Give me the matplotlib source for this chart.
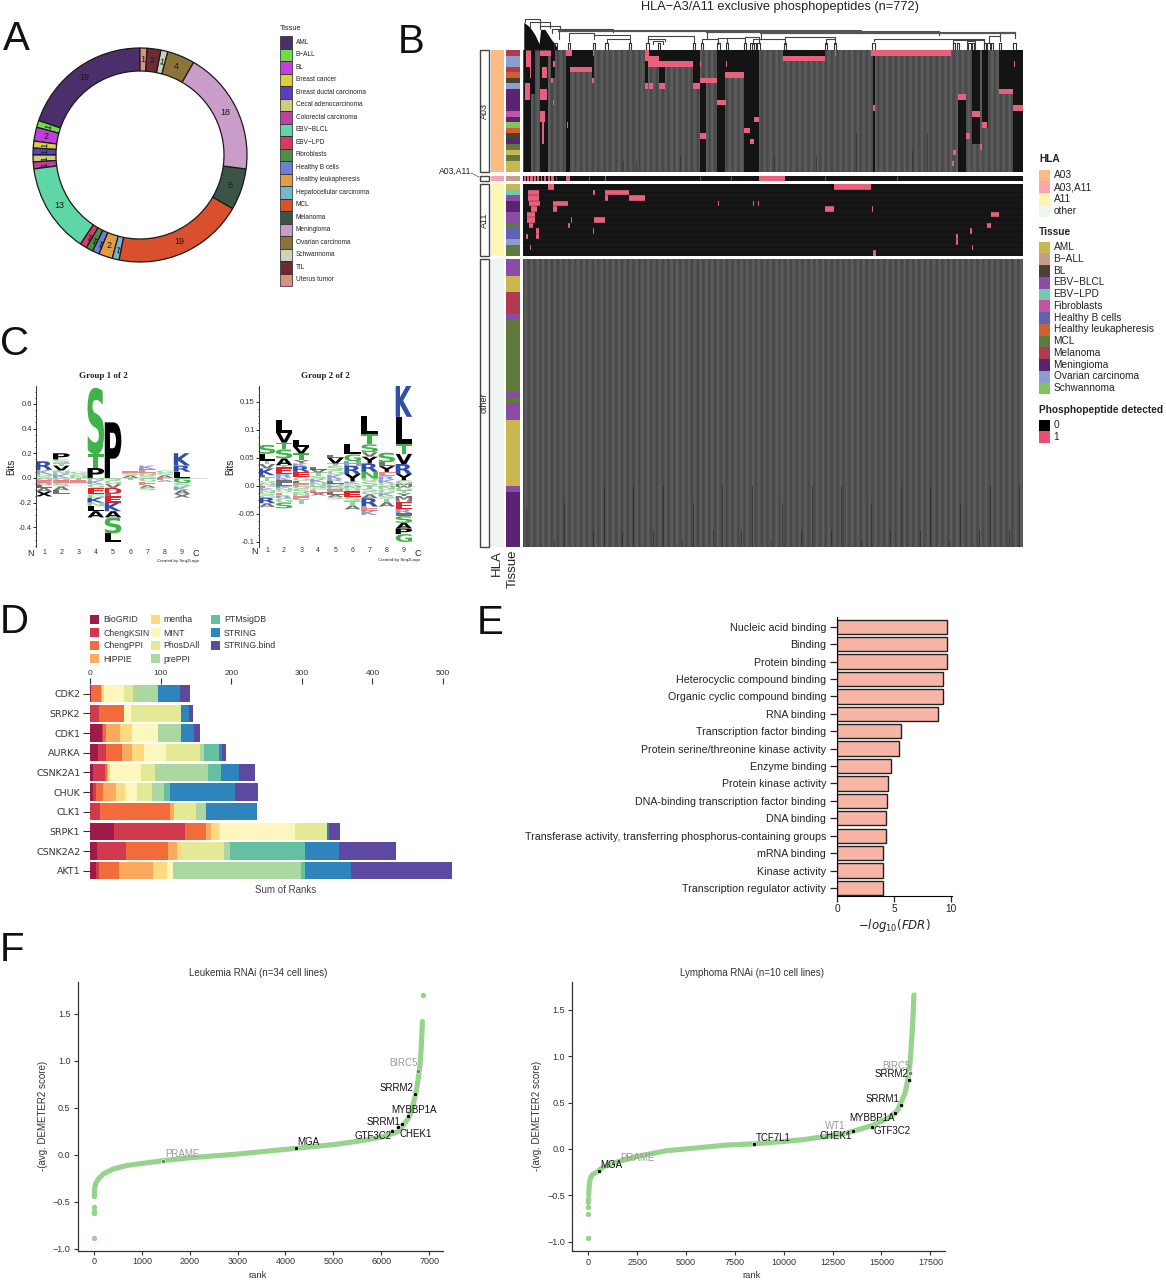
import numpy as np
import matplotlib
matplotlib.use('Agg')
import matplotlib.pyplot as plt
from matplotlib.patches import Rectangle, PathPatch
from matplotlib.textpath import TextPath
from matplotlib.font_manager import FontProperties
from matplotlib.transforms import Affine2D

plt.rcParams['font.family'] = ['Liberation Sans', 'DejaVu Sans']

W = 1166
H = 1280

# panel A
donut_names = ['AML', 'B\u2212ALL', 'BL', 'Breast cancer', 'Breast ductal carcinoma', 'Cecal adenocarcinoma',
               'Colorectal carcinoma', 'EBV\u2212BLCL', 'EBV\u2212LPD', 'Fibroblasts', 'Healthy B cells',
               'Healthy leukapheresis', 'Hepatocellular carcinoma', 'MCL', 'Melanoma', 'Meningioma',
               'Ovarian carcinoma', 'Schwannoma', 'TIL', 'Uterus tumor']
donut_vals = [19, 1, 2, 1, 1, 1, 1, 13, 1, 1, 1, 2, 1, 19, 6, 18, 4, 1, 2, 1]
donut_cols = ['#4a2f6b', '#6fdd4b', '#c23fdc', '#d9d03a', '#5a3fc0', '#c9cf7a', '#c0409f', '#5fd6a5', '#d53a68',
              '#4b8f3f', '#6a7fd6', '#e69a45', '#6fb8d0', '#d9502f', '#3a5545', '#c99cc9', '#8a7438', '#c9d5b9',
              '#6e2a35', '#dc9080']

# panel B, heatmap. x values are positions along the 500 px wide map on a 245..1550 scale
tissue_col = {'AML': '#c9b84f', 'B\u2212ALL': '#c49e88', 'BL': '#4b4037', 'EBV\u2212BLCL': '#8b4ba6',
              'EBV\u2212LPD': '#74c8ac', 'Fibroblasts': '#c452a5', 'Healthy B cells': '#5f63b5',
              'Healthy leukapheresis': '#cf5f2e', 'MCL': '#5f7a3a', 'Melanoma': '#b23a4e',
              'Meningioma': '#5b2470', 'Ovarian carcinoma': '#8a9fd0', 'Schwannoma': '#7fc55c'}
hla_col = {'A03': '#fdbb84', 'A03,A11': '#fba3ae', 'A11': '#fbf6b0', 'other': '#eef5f1'}
stripe = [0.29, 0.31, 0.33, 0.36, 0.37, 0.35, 0.32, 0.30, 0.28]

a03_tissue = ['Melanoma', 'Ovarian carcinoma', 'Ovarian carcinoma', 'Melanoma', 'Healthy leukapheresis', 'BL',
              'Ovarian carcinoma', 'Meningioma', 'Meningioma', 'Meningioma', 'Meningioma', 'Fibroblasts',
              'Meningioma', 'Schwannoma', 'Healthy leukapheresis', 'BL', 'Meningioma', 'MCL', 'AML', 'MCL',
              'AML', 'AML']
mid_tissue = ['B\u2212ALL']
a11_tissue = ['AML', 'EBV\u2212LPD', 'EBV\u2212BLCL', 'Meningioma', 'Meningioma', 'EBV\u2212BLCL', 'EBV\u2212BLCL',
              'MCL', 'Healthy B cells', 'Healthy B cells', 'Ovarian carcinoma', 'MCL', 'MCL']
other_tissue = ['EBV\u2212BLCL'] * 3 + ['AML'] * 3 + ['Melanoma'] * 4 + ['EBV\u2212BLCL'] + ['MCL'] * 13 + \
               ['EBV\u2212BLCL'] + ['MCL'] + ['EBV\u2212BLCL'] * 3 + ['AML'] * 12 + ['EBV\u2212BLCL'] + \
               ['Meningioma'] * 10

# (x0, x1, row0, row1)
a03_black = [(248, 267, 0, 22), (267, 275, 0, 8), (289, 311, 0, 22), (320, 330, 0, 5), (358, 366, 0, 22),
             (366, 430, 0, 3), (426, 430, 3, 6), (564, 572, 0, 7), (572, 600, 0, 3), (600, 615, 0, 7),
             (615, 690, 0, 2), (690, 708, 0, 6), (708, 722, 5, 22), (722, 750, 5, 6), (750, 773, 0, 22),
             (773, 822, 0, 5), (821, 860, 0, 22), (923, 1032, 0, 1), (1158, 1165, 0, 22), (1380, 1402, 8, 22),
             (1418, 1436, 0, 17), (1444, 1458, 0, 14), (1487, 1550, 0, 7), (1524, 1550, 7, 22)]
a03_pink = [(358, 371, 0, 1), (565, 575, 0, 1), (1155, 1363, 0, 1), (923, 1032, 1, 2), (565, 600, 1, 2),
            (572, 688, 2, 3), (367, 426, 3, 4), (773, 822, 4, 5), (709, 750, 5, 6), (564, 571, 6, 7),
            (575, 585, 6, 7), (600, 615, 6, 7), (690, 708, 6, 7), (1487, 1524, 7, 8), (1380, 1402, 8, 9),
            (751, 775, 9, 10), (1524, 1550, 10, 11), (1418, 1436, 11, 12), (846, 860, 12, 13),
            (1444, 1457, 13, 14), (821, 837, 14, 15), (709, 721, 15, 16), (1402, 1411, 15, 16),
            (837, 846, 16, 17), (1436, 1444, 17, 18), (1368, 1374, 18, 19), (1365, 1369, 20, 21),
            (253, 265, 0, 3), (263, 267, 3, 5), (250, 263, 6, 9), (289, 320, 0, 1), (294, 307, 3, 5),
            (289, 307, 7, 9), (289, 302, 11, 13), (294, 300, 13, 17), (320, 324, 5, 6), (324, 328, 2, 3),
            (322, 326, 9, 10), (426, 430, 5, 6), (708, 710, 2, 3), (1160, 1163, 10, 11), (360, 362, 13, 14),
            (1526, 1528, 2, 3), (776, 778, 2, 3), (1060, 1062, 0, 1), (428, 430, 0, 1)]
mid_pink = [(247, 251, 0, 1), (255, 260, 0, 1), (264, 270, 0, 1), (274, 279, 0, 1), (283, 288, 0, 1),
            (292, 296, 0, 1), (300, 304, 0, 1), (310, 316, 0, 1), (320, 326, 0, 1), (358, 367, 0, 1),
            (459, 461, 0, 1), (707, 709, 0, 1), (860, 930, 0, 1)]
mid_white = [330, 417, 460, 707, 787, 1032, 1222]
a11_pink = [(1057, 1155, 0, 1), (310, 326, 0, 1), (460, 523, 1, 2), (427, 433, 1, 2), (523, 565, 2, 3),
            (460, 468, 2, 3), (322, 361, 3, 4), (1032, 1057, 4, 5), (322, 335, 4, 5), (1467, 1487, 5, 6),
            (430, 459, 6, 7), (1457, 1467, 7, 8), (1411, 1416, 8, 9), (1376, 1379, 9, 10), (1374, 1379, 10, 11),
            (1416, 1420, 11, 12), (1160, 1166, 12, 13), (258, 285, 1, 3), (262, 290, 3, 4), (265, 280, 4, 5),
            (255, 275, 5, 7), (262, 270, 7, 8), (278, 286, 8, 10), (252, 256, 9, 10), (264, 267, 11, 12),
            (754, 757, 3, 4), (845, 848, 3, 4), (858, 861, 3, 4), (1156, 1158, 4, 5), (427, 429, 8, 9),
            (525, 527, 9, 10), (362, 366, 7, 8), (370, 373, 6, 7), (322, 325, 6, 7)]
# black hairlines near the bottom of the lower map: x and the row where they begin
other_lines_x = [252, 327, 352, 427, 456, 504, 533, 583, 610, 660, 688, 740, 765, 815, 843, 893, 920, 970, 998,
                 1048, 1076, 1126, 1153, 1203, 1231, 1281, 1308, 1358, 1386, 1436, 1464, 1514, 1540]
other_lines_r = [45, 51, 44, 49, 41, 49, 41, 49, 41, 51, 44, 49, 41, 49, 41, 51, 44, 49, 41, 49, 41, 51, 44, 49,
                 41, 49, 41, 51, 44, 49, 41, 49, 41]
a03_lines_x = [505, 655, 1115, 1260, 1300, 1010, 900, 540]
a03_lines_r = [20, 19, 15, 18, 15, 19, 19, 20]

# dendrogram (x0, x1, top, bottom0, bottom1), height scale 58 top .. 148 bottom
dendro = [(250, 290, 60, 70, 82), (263, 315, 70, 85, 85), (290, 341, 80, 90, 95),
          (320, 480, 88, 100, 98), (338, 1128, 94, 118, 100), (725, 1330, 98, 118, 105),
          (865, 1528, 100, 118, 105), (365, 430, 100, 122, 105), (430, 525, 105, 118, 115),
          (463, 525, 116, 128, 128), (570, 692, 108, 126, 128), (570, 615, 116, 128, 122),
          (585, 610, 122, 130, 132), (712, 755, 118, 128, 130), (755, 777, 113, 130, 128),
          (777, 825, 115, 128, 128), (825, 860, 112, 128, 118), (845, 860, 116, 130, 128),
          (860, 928, 116, 128, 130), (928, 1060, 112, 130, 118), (1035, 1060, 116, 132, 130),
          (1160, 1448, 116, 122, 122), (1368, 1448, 120, 148, 148), (1405, 1425, 122, 148, 148),
          (1460, 1490, 110, 125, 122), (1490, 1528, 98, 112, 115)]
dendro_long = [(338, 1128, 94), (725, 1330, 98), (865, 1528, 100)]
dendro_stems = [330, 365, 430, 463, 525, 570, 600, 692, 712, 755, 777, 825, 840, 850, 860, 928, 1035, 1060, 1160,
                1370, 1380, 1410, 1420, 1450, 1460, 1470, 1490, 1528]
dense_x = [247, 259, 267, 276, 287, 291, 302, 311, 320, 328, 333]
dense_top = [70, 80, 90, 105, 130, 90, 90, 105, 120, 130, 140]

# panel C, letter stacks per position, (letter, height), from the zero line outward
g1_pos = [[('S', .015), ('N', .015), ('K', .035), ('R', .07)],
          [('K', .03), ('N', .03), ('V', .04), ('T', .02), ('S', .03), ('P', .05)],
          [('N', .02), ('S', .015), ('G', .015)],
          [('P', .08), ('T', .11), ('S', .54)],
          [('P', .45)],
          [('A', .02), ('S', .02), ('E', .02)],
          [('S', .02), ('N', .02), ('E', .03), ('K', .03)],
          [('A', .02), ('S', .02), ('G', .02)],
          [('L', .05), ('R', .05), ('K', .1)]]
g1_neg = [[('G', .02), ('E', .02), ('D', .02), ('L', .02), ('A', .03), ('X', .04)],
          [('G', .02), ('E', .02), ('S', .03), ('A', .03), ('L', .03)],
          [('T', .02), ('E', .02)],
          [('N', .02), ('K', .03), ('G', .03), ('E', .05), ('G', .03), ('K', .04), ('N', .03), ('L', .04), ('A', .05)],
          [('S', .02), ('G', .03), ('V', .03), ('D', .05), ('L', .02), ('E', .05), ('K', .07), ('A', .05), ('S', .13), ('L', .07)],
          [('T', .015)],
          [('G', .03), ('E', .03), ('A', .02), ('S', .02)],
          [('E', .02), ('A', .01)],
          [('G', .04), ('S', .03), ('K', .03), ('A', .03), ('X', .03)]]
g2_pos = [[('N', .005), ('Q', .004), ('T', .006), ('L', .004), ('K', .012), ('V', .008), ('T', .006), ('L', .012), ('S', .016)],
          [('L', .005), ('I', .005), ('K', .005), ('R', .006), ('E', .012), ('T', .004), ('A', .012), ('S', .016), ('T', .012), ('V', .018), ('L', .022)],
          [('F', .005), ('L', .004), ('G', .006), ('E', .01), ('R', .01), ('K', .005), ('Y', .006), ('T', .012), ('V', .012), ('L', .012)],
          [('N', .006), ('K', .006), ('S', .006), ('T', .006), ('V', .005), ('L', .004)],
          [('N', .004), ('L', .004), ('R', .004), ('K', .008), ('G', .008), ('S', .008), ('T', .004), ('V', .01), ('L', .005)],
          [('S', .004), ('K', .004), ('Y', .013), ('R', .015), ('H', .008), ('G', .012), ('L', .019)],
          [('S', .008), ('Q', .005), ('N', .012), ('R', .015), ('Y', .012), ('V', .008), ('S', .014), ('T', .018), ('L', .033)],
          [('Q', .005), ('K', .006), ('R', .006), ('E', .008), ('Y', .01), ('L', .007), ('S', .017)],
          [('M', .004), ('G', .006), ('Y', .011), ('R', .018), ('V', .018), ('T', .018), ('L', .048), ('K', .055)]]
g2_neg = [[('E', .004), ('K', .004), ('N', .005), ('S', .004), ('G', .004), ('R', .01), ('A', .007)],
          [('K', .004), ('N', .004), ('Q', .004), ('E', .005), ('R', .005), ('G', .008), ('S', .01)],
          [('G', .005), ('S', .008), ('N', .005), ('E', .006), ('T', .008)],
          [('S', .004), ('G', .003), ('E', .005), ('X', .005)],
          [('K', .003), ('N', .003), ('E', .005), ('L', .005), ('A', .004), ('S', .004)],
          [('N', .005), ('Q', .005), ('E', .01), ('S', .007), ('T', .008), ('A', .007)],
          [('T', .005), ('S', .005), ('G', .005), ('A', .007), ('R', .015), ('E', .007), ('K', .008)],
          [('N', .006), ('G', .006), ('K', .006), ('S', .005), ('T', .006), ('A', .008)],
          [('W', .003), ('G', .005), ('T', .005), ('Y', .005), ('M', .008), ('H', .003), ('E', .012), ('R', .008),
           ('I', .005), ('S', .012), ('A', .01), ('P', .01), ('G', .014)]]
letter_col = {'S': '#3fb34a', 'T': '#3fb34a', 'G': '#3fb34a', 'N': '#3fb34a', 'Q': '#3fb34a',
              'K': '#2f4fa8', 'R': '#2f4fa8', 'H': '#2f4fa8', 'E': '#e8202a', 'D': '#e8202a', 'F': '#e8202a'}

# panel D
kinases = ['CDK2', 'SRPK2', 'CDK1', 'AURKA', 'CSNK2A1', 'CHUK', 'CLK1', 'SRPK1', 'CSNK2A2', 'AKT1']
lib_names = ['BioGRID', 'ChengKSIN', 'ChengPPI', 'HIPPIE', 'mentha', 'MINT', 'PhosDAll', 'prePPI', 'PTMsigDB',
             'STRING', 'STRING.bind']
lib_cols = ['#9e1b47', '#d1394f', '#f26b3a', '#fba95e', '#fdd97f', '#fdf6bd', '#e3e995', '#abd8a0', '#65c0a2',
            '#2f85bb', '#5d4aa0']
biogrid = [2, 0, 17, 12, 4, 4, 0, 34, 10, 9]
chengksin = [0, 13, 1, 11, 17, 5, 14, 101, 40.5, 4]
chengppi = [14, 34.5, 5, 22, 3, 10, 100, 30, 60, 28]
hippie = [1, 0, 20, 14, 2, 17.5, 5, 6.5, 13, 48]
mentha = [2.5, 0, 16.5, 18, 3, 13, 0, 11, 7.5, 20]
mint = [28, 11, 36.5, 30, 43.5, 17.5, 0, 108, 0, 9]
phosdall = [14, 71, 0, 49, 20, 21, 31, 45, 58.5, 0]
preppi = [35.5, 0, 33.5, 5, 74, 16.5, 15, 0, 8.5, 181]
ptmsigdb = [0, 0, 0, 22, 19.5, 9.5, 0, 0, 106, 5]
string_db = [31, 11, 18.5, 4, 25.5, 92, 71.5, 2.5, 49, 65]
string_bind = [13, 5.5, 8.5, 5, 22, 32, 0, 16.5, 81, 144]

# panel E
go_terms = ['Nucleic acid binding', 'Binding', 'Protein binding', 'Heterocyclic compound binding',
            'Organic cyclic compound binding', 'RNA binding', 'Transcription factor binding',
            'Protein serine/threonine kinase activity', 'Enzyme binding', 'Protein kinase activity',
            'DNA-binding transcription factor binding', 'DNA binding',
            'Transferase activity, transferring phosphorus-containing groups', 'mRNA binding', 'Kinase activity',
            'Transcription regulator activity']
go_fdr = [9.65, 9.65, 9.65, 9.35, 9.3, 8.85, 5.6, 5.4, 4.7, 4.5, 4.35, 4.3, 4.25, 4.05, 4.05, 4.0]

# panel F
leuk_rank = [10, 20, 50, 100, 200, 400, 700, 1000, 1450, 2000, 2500, 3000, 3500, 4200, 4500, 5000, 5500, 6000, 6200,
             6350, 6480, 6580, 6650, 6720, 6770, 6810, 6830, 6840, 6850, 6860]
leuk_val = [-.38, -.33, -.29, -.25, -.20, -.15, -.11, -.09, -.06, -.03, -.01, .01, .035, .07, .085, .11, .145, .19,
            .22, .25, .33, .4, .5, .65, .8, .95, 1.1, 1.2, 1.3, 1.42]
leuk_low_rank = [0, 0, 0, 0, 0, 0, 0, 6865]
leuk_low_val = [-.88, -.62, -.60, -.55, -.44, -.42, -.40, 1.7]
lymph_rank = [20, 40, 60, 100, 200, 500, 800, 1500, 2500, 4000, 5500, 7000, 8500, 10000, 11000, 12000, 13000, 13700,
              14500, 15000, 15400, 15800, 16000, 16200, 16350, 16450, 16520, 16580, 16630, 16660]
lymph_val = [-.5, -.42, -.37, -.32, -.28, -.24, -.19, -.14, -.08, -.02, .01, .04, .055, .08, .1, .13, .16, .2, .25,
             .3, .34, .41, .5, .6, .75, .9, 1.1, 1.3, 1.5, 1.66]
lymph_low_rank = [0, 0, 0, 0, 0]
lymph_low_val = [-.96, -.70, -.63, -.57, -.54]
# gene, rank, value, grey?, text offset in px, ha
leuk_genes = [('PRAME', 1450, -.06, True, 2, 7, 'left'), ('MGA', 4220, .07, False, 1, 6, 'left'),
              ('BIRC5', 6770, .89, True, 0, 8, 'right'), ('SRRM2', 6700, .65, False, -1, 6, 'right'),
              ('MYBBP1A', 6550, .41, False, -16, 6, 'left'), ('SRRM1', 6350, .30, False, 2, 5, 'right'),
              ('CHEK1', 6440, .33, False, -3, -10, 'left'), ('GTF3C2', 6230, .25, False, -1, -5, 'right')]
lymph_genes = [('PRAME', 1250, -.15, True, 8, 5, 'left'), ('MGA', 550, -.24, False, 1, 6, 'left'),
               ('TCF7L1', 8500, .05, False, 1, 6, 'left'), ('WT1', 13250, .17, True, -2, 7, 'right'),
               ('BIRC5', 16480, .82, True, 0, 7, 'right'), ('SRRM2', 16430, .74, False, -1, 6, 'right'),
               ('SRRM1', 16020, .47, False, -2, 6, 'right'), ('MYBBP1A', 15710, .39, False, -1, -5, 'right'),
               ('GTF3C2', 14530, .24, False, 1, -4, 'left'), ('CHEK1', 13560, .19, False, -1, -5, 'right')]


fig = plt.figure(figsize=(W / 100, H / 100), dpi=100, facecolor='white')


def px_axes(x0, y0, x1, y1, **kw):
    return fig.add_axes([x0 / W, 1 - y1 / H, (x1 - x0) / W, (y1 - y0) / H], **kw)


# full page axes for loose text and legends, in image pixels
ov = px_axes(0, 0, W, H, zorder=20)
ov.set_xlim(0, W)
ov.set_ylim(H, 0)
ov.axis('off')
ov.patch.set_alpha(0)


def txt(x, y, s, size=7, ha='left', va='center', **kw):
    kw.setdefault('color', '#222222')
    ov.text(x, y, s, fontsize=size, ha=ha, va=va, **kw)


for letter, lx, ly in [('A', 3, 50), ('B', 398, 53), ('C', 0, 355), ('D', 0, 633), ('E', 477, 634), ('F', 0, 961)]:
    ov.text(lx, ly, letter, fontsize=29, ha='left', va='baseline', color='#111111')

# A: donut
ax = px_axes(30, 45, 250, 265)
ax.pie(donut_vals, colors=donut_cols, startangle=90, counterclock=True, radius=107,
       wedgeprops=dict(width=23, edgecolor='#1a1a1a', linewidth=0.9))
ax.set_xlim(-110, 110)
ax.set_ylim(-110, 110)
ang = 90.0
for v in donut_vals:
    mid = ang + v * 360.0 / sum(donut_vals) / 2
    ang += v * 360.0 / sum(donut_vals)
    xx = 95.5 * np.cos(np.radians(mid))
    yy = 95.5 * np.sin(np.radians(mid))
    ax.text(xx, yy, str(v), fontsize=6.5, ha='center', va='center', color='#1a1a1a',
            rotation=(mid - 90 if v == 1 else 0))

txt(280, 28, 'Tissue', size=5.3)
for i, name in enumerate(donut_names):
    ov.add_patch(Rectangle((280, 36 + i * 12.5), 12, 12.5, fc=donut_cols[i], ec='#222222', lw=0.5))
    txt(296, 42.3 + i * 12.5, name, size=4.7)


# B: heatmap blocks
def col(v):
    return int(round((v - 245) * 772 / 1305))


def heat_block(y0, y1, nrows, tissue, hla, black=(), pink=(), gray=True):
    ax = px_axes(523, y0, 1023, y1)
    base = np.zeros((nrows, 772, 3))
    if gray:
        for c in range(772):
            base[:, c, :] = stripe[c % len(stripe)]
    else:
        base[:, :, :] = 0.08
    for x0, x1, r0, r1 in black:
        base[r0:r1, col(x0):col(x1), :] = 0.08
    for x0, x1, r0, r1 in pink:
        base[r0:r1, col(x0):max(col(x1), col(x0) + 1), :] = matplotlib.colors.to_rgb('#e8607c')
    ax.imshow(base, aspect='auto', interpolation='nearest', extent=(245, 1550, nrows, 0))
    ax.axis('off')
    ov.add_patch(Rectangle((491, y0), 13, y1 - y0, fc=hla_col[hla], ec='none'))
    for r, t in enumerate(tissue):
        h = (y1 - y0) / nrows
        ov.add_patch(Rectangle((506, y0 + r * h), 14, h + 0.2, fc=tissue_col[t], ec='none'))
    ov.add_patch(Rectangle((479.5, y0), 9, y1 - y0, fc='white', ec='#444444', lw=1))
    return ax


ax = heat_block(50, 172, 22, a03_tissue, 'A03', a03_black, a03_pink)
for xv, rv in zip(a03_lines_x, a03_lines_r):
    ax.plot([xv, xv], [rv, 22], color='#2a2a2a', lw=0.4)
ax.set_xlim(245, 1550)
ax.set_ylim(22, 0)
txt(484, 111, 'A03', size=6.5, ha='center', rotation=90)

ax = heat_block(176, 181, 1, mid_tissue, 'A03,A11', (), mid_pink, gray=False)
ax.vlines(mid_white, 0, 1, color='#777777', lw=0.5)
txt(471, 171, 'A03,A11', size=6.2, ha='right', va='center')
ov.plot([471, 479], [173, 177], color='#555555', lw=0.5)

ax = heat_block(184, 256, 13, a11_tissue, 'A11', (), a11_pink, gray=False)
ax.hlines(range(1, 13), 245, 1550, color='#2a2a2a', lw=0.3)
ax.set_xlim(245, 1550)
ax.set_ylim(13, 0)
txt(484, 220, 'A11', size=6.5, ha='center', rotation=90)

ax = heat_block(259, 547, 52, other_tissue, 'other')
for xv, rv in zip(other_lines_x, other_lines_r):
    ax.plot([xv, xv], [rv, 52], color='#2a2a2a', lw=0.45)
ax.set_xlim(245, 1550)
ax.set_ylim(52, 0)
txt(484, 403, 'other', size=6.5, ha='center', rotation=90)

txt(497, 550, 'HLA', size=9.5, ha='center', va='top', rotation=90)
txt(513, 550, 'Tissue', size=9.5, ha='center', va='top', rotation=90)
txt(780, 7, 'HLA\u2212A3/A11 exclusive phosphopeptides (n=772)', size=9.2, ha='center')

# dendrogram
ax = px_axes(523, 18, 1023, 50)
ax.set_xlim(245, 1550)
ax.set_ylim(148, 58)
ax.axis('off')
ax.fill_between(dense_x, dense_top, 148, color='#111111', lw=0)
for x0, x1, top, b0, b1 in dendro:
    ax.plot([x0, x0, x1, x1], [b0, top, top, b1], color='#444444', lw=0.8)
for x0, x1, top in dendro_long:
    ax.plot([x0, x1], [top, top], color='#555555', lw=1.5)
for xv in dendro_stems:
    ax.plot([xv - 3, xv - 3, xv + 3, xv + 3], [148, 128, 128, 148], color='#333333', lw=0.8)
ax.plot([245, 1550], [147.5, 147.5], color='#888888', lw=0.8)

# B legends
txt(1039, 159, 'HLA', size=7.3, fontweight='bold')
for i, name in enumerate(['A03', 'A03,A11', 'A11', 'other']):
    ov.add_patch(Rectangle((1039, 169.5 + i * 11.85), 10.5, 11.85, fc=hla_col[name], ec='none'))
    txt(1053.5, 175.2 + i * 11.85, name, size=7.3)
txt(1039, 232, 'Tissue', size=7.3, fontweight='bold')
for i, name in enumerate(tissue_col):
    ov.add_patch(Rectangle((1039, 241.5 + i * 11.75), 10.5, 11.75, fc=tissue_col[name], ec='none'))
    txt(1053.5, 247.2 + i * 11.75, name, size=7.3)
txt(1039, 409.7, 'Phosphopeptide detected', size=7.3, fontweight='bold')
ov.add_patch(Rectangle((1039, 419.5), 10.5, 11.75, fc='black', ec='none'))
ov.add_patch(Rectangle((1039, 431.25), 10.5, 11.75, fc='#e8506f', ec='none'))
txt(1053.5, 425, '0', size=7.3)
txt(1053.5, 436.7, '1', size=7.3)

# C: sequence logos
fp_bold = FontProperties(family='DejaVu Sans', weight='bold')


def put_letter(ax, ch, xc, y, h, alpha, width=0.96):
    tp = TextPath((0, 0), ch, size=1, prop=fp_bold)
    bb = tp.get_extents()
    tr = Affine2D().translate(-bb.x0, -bb.y0).scale(width / bb.width, h / bb.height).translate(xc - width / 2, y)
    ax.add_patch(PathPatch(tp, transform=tr + ax.transData, fc=letter_col.get(ch, '#000000'), ec='none', alpha=alpha))


def logo(x0, x1, ylo, yhi, xlo, xhi, pos, neg, yticks, minor, title, tcx, fmt):
    ax = px_axes(x0, 386, x1, 547)
    ax.set_xlim(xlo, xhi)
    ax.set_ylim(ylo, yhi)
    thin = (yhi - ylo) * 0.03
    for p, stack in enumerate(pos):
        y = 0.0
        for ch, h in stack:
            put_letter(ax, ch, p + 1, y, h, 0.55 if h < thin else 1.0)
            y += h
    for p, stack in enumerate(neg):
        y = 0.0
        for ch, h in stack:
            y -= h
            put_letter(ax, ch, p + 1, y, h, 0.55 if h < thin else 1.0)
    ax.axhline(0, color='#cccccc', lw=0.5, zorder=0)
    for s in ['top', 'right', 'bottom']:
        ax.spines[s].set_visible(False)
    ax.spines['left'].set_color('#333333')
    ax.spines['left'].set_linewidth(0.7)
    ax.patch.set_alpha(0)
    ax.set_xticks([])
    ax.set_yticks(yticks)
    ax.set_yticklabels([fmt(t) for t in yticks], fontsize=5.5, color='#333333')
    ax.set_yticks(minor, minor=True)
    ax.tick_params(axis='y', length=2, width=0.6, pad=1)
    ax.tick_params(axis='y', which='minor', length=1, width=0.5)
    ax.set_ylabel('Bits', fontsize=7, labelpad=2, color='#222222')
    txt(tcx, 376, title, size=6.5, ha='center', fontweight='bold', family='Liberation Serif')
    return ax


logo(36, 208, -0.56, 0.745, 0.536, 10.5, g1_pos, g1_neg, [-.4, -.2, 0, .2, .4, .6], np.arange(-.55, .75, .05),
     'Group 1 of 2', 103, lambda t: '%.1f' % t)
logo(259, 415, -0.109, 0.178, 0.53, 9.65, g2_pos, g2_neg, [-.1, -.05, 0, .05, .1, .15], np.arange(-.1, .176, .0125),
     'Group 2 of 2', 325, lambda t: ('%g' % t if t != 0 else '0.0'))

for i in range(9):
    txt(44.3 + i * 17.2, 552, str(i + 1), size=5, ha='center', color='#333333')
    txt(267 + i * 17.1, 551, str(i + 1), size=5, ha='center', color='#333333')
txt(31, 553, 'N', size=6.5, ha='center')
txt(196, 553, 'C', size=6.5, ha='center')
txt(254, 552, 'N', size=6.5, ha='center')
txt(418, 553, 'C', size=6.5, ha='center')
txt(199, 561, 'Created by Seq2Logo', size=3.2, ha='right')
txt(420, 560.5, 'Created by Seq2Logo', size=3.2, ha='right')

# D: stacked bars
lib_vals = [biogrid, chengksin, chengppi, hippie, mentha, mint, phosdall, preppi, ptmsigdb, string_db, string_bind]
ax = px_axes(90, 683.9, 455, 880.5)
left = np.zeros(len(kinases))
for vals, c in zip(lib_vals, lib_cols):
    ax.barh(range(len(kinases)), vals, left=left, height=0.88, color=c, lw=0)
    left = left + np.array(vals)
ax.set_xlim(0, 517)
ax.set_ylim(9.5, -0.5)
ax.set_yticks(range(len(kinases)))
ax.set_yticklabels(kinases, fontsize=6.8, family='DejaVu Sans', color='#333333')
ax.xaxis.tick_top()
ax.set_xticks([0, 100, 200, 300, 400, 500])
ax.tick_params(axis='x', length=4, width=0.8, labelsize=6, pad=1, colors='#333333')
ax.tick_params(axis='y', length=5, width=0.8, pad=2, color='#333333')
for s in ax.spines.values():
    s.set_visible(False)
txt(286, 890, 'Sum of Ranks', size=7, ha='center', color='#444444')
legend_x = [90, 150.5, 211]
for i, name in enumerate(lib_names):
    cidx = 0 if i < 4 else (1 if i < 8 else 2)
    row = i if i < 4 else (i - 4 if i < 8 else i - 8)
    ov.add_patch(Rectangle((legend_x[cidx], 614.5 + row * 13), 9, 9, fc=lib_cols[i], ec='none'))
    txt(legend_x[cidx] + 13, 620 + row * 13, name, size=6.3, color='#333333')

# E: bars
ax = px_axes(837.3, 617, 952, 896)
ax.barh(range(len(go_terms)), go_fdr, height=0.82, color='#f7b5a6', edgecolor='#222222', lw=1)
ax.set_xlim(0, 10.1)
ax.set_ylim(15.46, -0.557)
ax.set_yticks(range(len(go_terms)))
ax.set_yticklabels(go_terms, fontsize=7.65, color='#222222')
ax.set_xticks([0, 5, 10])
ax.tick_params(axis='x', labelsize=7.3, length=4, width=0.9, pad=2, color='#222222', labelcolor='#222222')
ax.tick_params(axis='y', length=5, width=0.9, pad=3, color='#222222')
ax.spines['top'].set_visible(False)
ax.spines['right'].set_visible(False)
ax.set_xlabel('$-log_{10}(FDR)$', fontsize=8.5, labelpad=2, color='#222222')


# F: ranked RNAi scores
def rank_panel(box, xlim, ylim, xticks, line_r, line_v, dot_r, dot_v, genes, title, ylab_x):
    ax = px_axes(*box)
    ax.plot(line_r, line_v, color='#96d38c', lw=3.7, solid_capstyle='round', zorder=1)
    ax.scatter(dot_r, dot_v, s=15, color='#96d38c', lw=0, zorder=1)
    for name, r, v, grey, dx, dy, ha in genes:
        c = '#9a9a9a' if grey else '#111111'
        ax.scatter([r], [v], s=9, color=('#777777' if grey else 'black'), edgecolor='white', lw=0.4, zorder=3)
        ax.annotate(name, (r, v), xytext=(dx, dy), textcoords='offset pixels', fontsize=7, color=c, ha=ha,
                    va='center', zorder=4)
    ax.set_xlim(*xlim)
    ax.set_ylim(*ylim)
    ax.set_xticks(xticks)
    ax.set_yticks([-1, -.5, 0, .5, 1, 1.5])
    ax.set_yticklabels(['\u22121.0', '\u22120.5', '0.0', '0.5', '1.0', '1.5'])
    ax.tick_params(labelsize=6.5, length=3, width=0.8, pad=2, color='#333333', labelcolor='#333333')
    for s in ['top', 'right']:
        ax.spines[s].set_visible(False)
    for s in ['left', 'bottom']:
        ax.spines[s].set_color('#333333')
        ax.spines[s].set_linewidth(0.9)
    ax.patch.set_alpha(0)
    txt(title[1], 973, title[0], size=7, ha='center', color='#333333')
    txt(title[1], 1275, 'rank', size=6.8, ha='center', color='#333333')
    txt(ylab_x, 1116, '-(avg. DEMETER2 score)', size=7, ha='center', rotation=90, color='#333333')


rank_panel((77.5, 982, 443, 1250.5), (-344, 7290), (-1.016, 1.84), range(0, 7001, 1000),
           leuk_rank, leuk_val, leuk_low_rank, leuk_low_val, leuk_genes, ('Leukemia RNAi (n=34 cell lines)', 258), 43)
rank_panel((572, 982, 945, 1250.7), (-835, 18250), (-1.098, 1.8), range(0, 17501, 2500),
           lymph_rank, lymph_val, lymph_low_rank, lymph_low_val, lymph_genes, ('Lymphoma RNAi (n=10 cell lines)', 752), 537)

fig.savefig('out.png', dpi=100)
